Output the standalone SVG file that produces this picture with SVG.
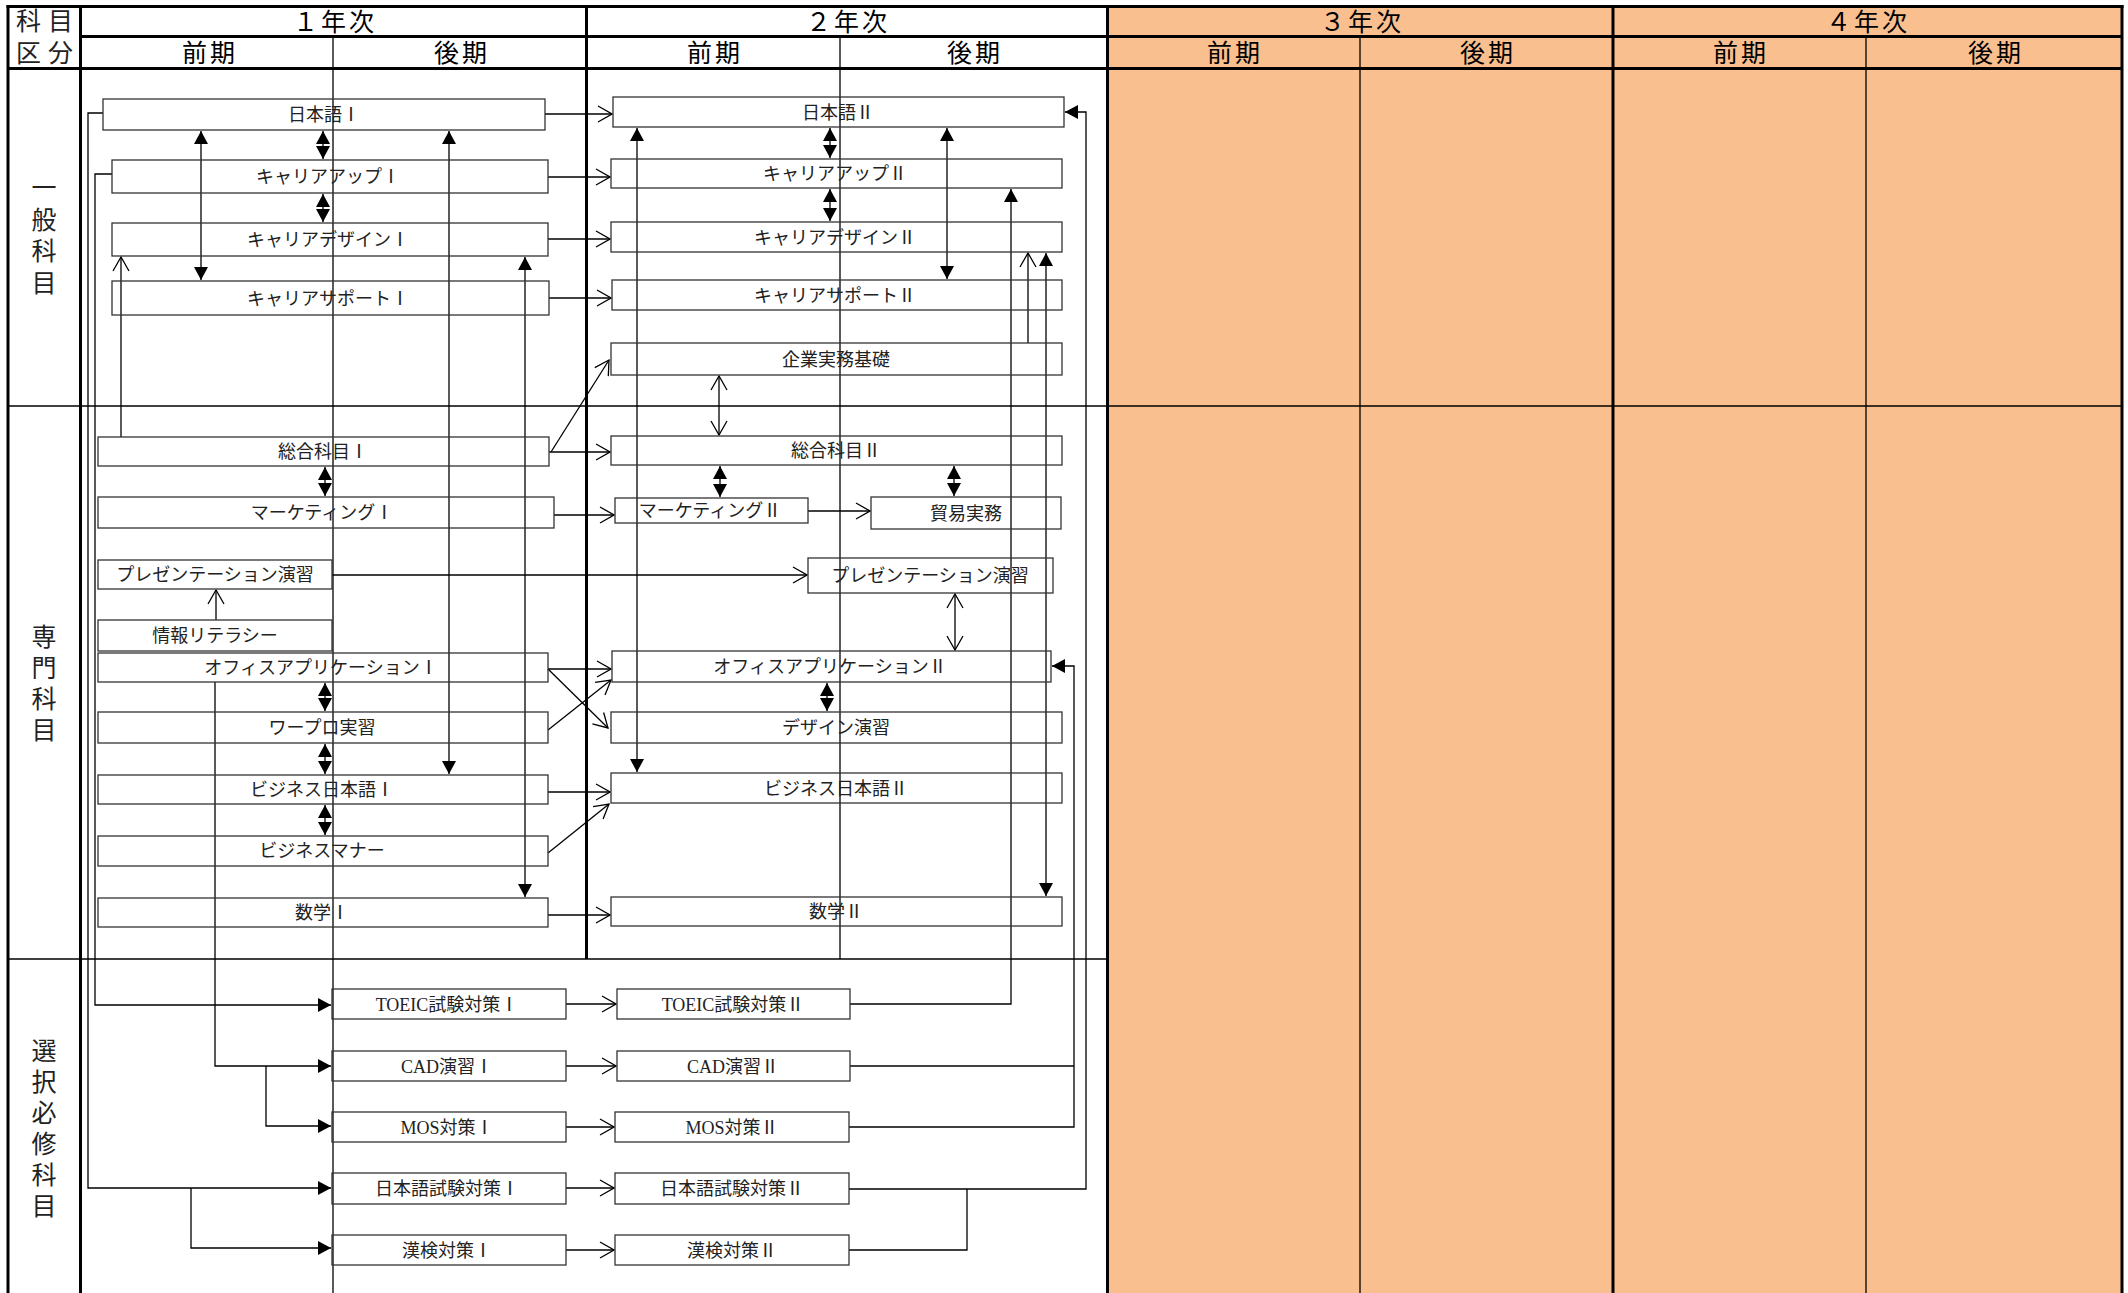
<svg xmlns="http://www.w3.org/2000/svg" width="2128" height="1293" viewBox="0 0 2128 1293">
<style>
.thick{stroke:#000;stroke-width:3;fill:none}
.thin{stroke:#000;stroke-width:1.3;fill:none}
.hdr{font-family:"Liberation Serif","Noto Sans CJK JP",serif;font-size:25px;fill:#000;text-anchor:middle;letter-spacing:3px}
.sec{font-family:"Noto Sans CJK JP",sans-serif;font-size:25px;fill:#222}
.vt{font-family:"Noto Sans CJK JP",sans-serif;font-size:25px;fill:#222;writing-mode:vertical-rl;text-anchor:start}
.box{fill:none;stroke:#333;stroke-width:1.3}
.lbl{font-family:"Liberation Serif","Noto Sans CJK JP",serif;font-size:18px;fill:#222;text-anchor:middle}
.c{fill:none;stroke:#000;stroke-width:1.3}
.f{marker-end:url(#fa)}
.f2{marker-start:url(#fa);marker-end:url(#fa)}
.o{marker-end:url(#oa)}
.o2{marker-start:url(#oa);marker-end:url(#oa)}
</style>
<defs>
<marker id="fa" viewBox="0 0 13 14" refX="13" refY="7" markerWidth="13" markerHeight="14" markerUnits="userSpaceOnUse" orient="auto-start-reverse"><path d="M0,0 L13,7 L0,14 Z" fill="#000"/></marker>
<marker id="oa" viewBox="0 0 16 18" refX="15" refY="9" markerWidth="16" markerHeight="18" markerUnits="userSpaceOnUse" orient="auto-start-reverse"><path d="M1,1 L15,9 L1,17" fill="none" stroke="#000" stroke-width="1.3"/></marker>
</defs>
<rect x="0" y="0" width="2128" height="1293" fill="#fff"/>
<g id="grid">
<rect x="1107" y="6" width="1015" height="1287" fill="#F9BF8F"/>
<line class="thin" x1="333" y1="36" x2="333" y2="1293"/>
<line class="thin" x1="840" y1="36" x2="840" y2="959"/>
<line class="thin" x1="1360" y1="36" x2="1360" y2="1293"/>
<line class="thin" x1="1866" y1="36" x2="1866" y2="1293"/>
<line class="thin" x1="8" y1="406" x2="2122" y2="406"/>
<line class="thin" x1="8" y1="959" x2="1107" y2="959"/>
<line class="thick" x1="6.5" y1="6.5" x2="2123.5" y2="6.5"/>
<line class="thick" x1="8" y1="5" x2="8" y2="1293"/>
<line class="thick" x1="80.5" y1="5" x2="80.5" y2="1293"/>
<line class="thick" x1="80" y1="36.5" x2="2123" y2="36.5"/>
<line class="thick" x1="7" y1="68.5" x2="2123" y2="68.5"/>
<line class="thick" x1="586.5" y1="5" x2="586.5" y2="959"/>
<line class="thick" x1="1107.5" y1="5" x2="1107.5" y2="1293"/>
<line class="thick" x1="1613" y1="5" x2="1613" y2="1293"/>
<line class="thick" x1="2122" y1="5" x2="2122" y2="1293"/>
<text class="sec" x="16" y="30" style="letter-spacing:7px">科目</text>
<text class="sec" x="16" y="62" style="letter-spacing:7px">区分</text>
<text class="hdr" x="335" y="31">１年次</text>
<text class="hdr" x="848" y="31">２年次</text>
<text class="hdr" x="1362" y="31">３年次</text>
<text class="hdr" x="1868" y="31">４年次</text>
<text class="hdr" x="210" y="62">前期</text>
<text class="hdr" x="462" y="62">後期</text>
<text class="hdr" x="715" y="62">前期</text>
<text class="hdr" x="975" y="62">後期</text>
<text class="hdr" x="1235" y="62">前期</text>
<text class="hdr" x="1488" y="62">後期</text>
<text class="hdr" x="1741" y="62">前期</text>
<text class="hdr" x="1996" y="62">後期</text>
<text class="vt" x="44" y="175" style="letter-spacing:6.5px">一般科目</text>
<text class="vt" x="44" y="624" style="letter-spacing:6px">専門科目</text>
<text class="vt" x="44" y="1038" style="letter-spacing:6px">選択必修科目</text>
</g>
<g id="connectors">
<path class="c o" d="M545,114 H612"/>
<path class="c o" d="M548,177 H610"/>
<path class="c o" d="M548,239 H610"/>
<path class="c o" d="M549,298 H611"/>
<path class="c o" d="M551,452 L609,360"/>
<path class="c o" d="M549,452 H610"/>
<path class="c o" d="M554,515 H614"/>
<path class="c o" d="M808,511 H870"/>
<path class="c o" d="M332,575 H807"/>
<path class="c o" d="M216,620 V590"/>
<path class="c o2" d="M955,594 V650"/>
<path class="c o" d="M548,669 H611"/>
<path class="c o" d="M548,669 L608,728"/>
<path class="c o" d="M548,730 L611,680"/>
<path class="c o" d="M548,792 H610"/>
<path class="c o" d="M548,853 L609,804"/>
<path class="c o" d="M548,915 H610"/>
<path class="c o" d="M121,437 V257"/>
<path class="c o" d="M1028,343 V253"/>
<path class="c o2" d="M719,376 V435"/>
<path class="c o" d="M566,1004 H616"/>
<path class="c o" d="M566,1066 H616"/>
<path class="c o" d="M566,1127 H614"/>
<path class="c o" d="M566,1188 H614"/>
<path class="c o" d="M566,1250 H614"/>
<path class="c f2" d="M323,131 V159"/>
<path class="c f2" d="M323,194 V222"/>
<path class="c f2" d="M201,131 V280"/>
<path class="c f2" d="M449,131 V774"/>
<path class="c f2" d="M525,257 V897"/>
<path class="c f2" d="M325,467 V496"/>
<path class="c f2" d="M325,683 V711"/>
<path class="c f2" d="M325,744 V774"/>
<path class="c f2" d="M325,805 V835"/>
<path class="c f2" d="M830,128 V158"/>
<path class="c f2" d="M830,189 V221"/>
<path class="c f2" d="M947,128 V279"/>
<path class="c f2" d="M637,128 V772"/>
<path class="c f2" d="M1046,253 V896"/>
<path class="c f2" d="M720,466 V497"/>
<path class="c f2" d="M954,466 V496"/>
<path class="c f2" d="M827,683 V711"/>
<path class="c f" d="M850,1004 H1011 V189"/>
<path class="c" d="M850,1066 H1074"/>
<path class="c f" d="M849,1127 H1074 V666 H1052"/>
<path class="c f" d="M849,1189 H1086 V112 H1065"/>
<path class="c" d="M849,1250 H967 V1189"/>
<path class="c f" d="M103,113 H88 V1188 H331"/>
<path class="c f" d="M191,1188 V1248 H331"/>
<path class="c f" d="M112,174 H95 V1005 H331"/>
<path class="c f" d="M215,682 V1066 H331"/>
<path class="c f" d="M266,1066 V1126 H331"/>
</g>
<g id="n_jp1"><rect class="box" x="103" y="99" width="442" height="31"/><text class="lbl" x="324" y="121">日本語Ⅰ</text></g>
<g id="n_cu1"><rect class="box" x="112" y="160" width="436" height="33"/><text class="lbl" x="328" y="183">キャリアアップⅠ</text></g>
<g id="n_cd1"><rect class="box" x="112" y="223" width="436" height="33"/><text class="lbl" x="328" y="246">キャリアデザインⅠ</text></g>
<g id="n_cs1"><rect class="box" x="112" y="281" width="437" height="34"/><text class="lbl" x="328" y="305">キャリアサポートⅠ</text></g>
<g id="n_sg1"><rect class="box" x="98" y="437" width="451" height="29"/><text class="lbl" x="323" y="458">総合科目Ⅰ</text></g>
<g id="n_mk1"><rect class="box" x="98" y="497" width="456" height="31"/><text class="lbl" x="322" y="519">マーケティングⅠ</text></g>
<g id="n_pr1"><rect class="box" x="98" y="560" width="234" height="29"/><text class="lbl" x="215" y="581">プレゼンテーション演習</text></g>
<g id="n_it"><rect class="box" x="98" y="620" width="234" height="31"/><text class="lbl" x="215" y="642">情報リテラシー</text></g>
<g id="n_oa1"><rect class="box" x="98" y="653" width="450" height="29"/><text class="lbl" x="321" y="674">オフィスアプリケーションⅠ</text></g>
<g id="n_wp"><rect class="box" x="98" y="712" width="450" height="31"/><text class="lbl" x="322" y="734">ワープロ実習</text></g>
<g id="n_bj1"><rect class="box" x="98" y="775" width="450" height="29"/><text class="lbl" x="322" y="796">ビジネス日本語Ⅰ</text></g>
<g id="n_bm"><rect class="box" x="98" y="836" width="450" height="30"/><text class="lbl" x="322" y="857">ビジネスマナー</text></g>
<g id="n_ma1"><rect class="box" x="98" y="898" width="450" height="29"/><text class="lbl" x="322" y="919">数学Ⅰ</text></g>
<g id="n_jp2"><rect class="box" x="613" y="97" width="451" height="30"/><text class="lbl" x="838" y="119">日本語Ⅱ</text></g>
<g id="n_cu2"><rect class="box" x="611" y="159" width="451" height="29"/><text class="lbl" x="835" y="180">キャリアアップⅡ</text></g>
<g id="n_cd2"><rect class="box" x="611" y="222" width="451" height="30"/><text class="lbl" x="835" y="244">キャリアデザインⅡ</text></g>
<g id="n_cs2"><rect class="box" x="612" y="280" width="450" height="30"/><text class="lbl" x="835" y="302">キャリアサポートⅡ</text></g>
<g id="n_kj"><rect class="box" x="611" y="343" width="451" height="32"/><text class="lbl" x="836" y="366">企業実務基礎</text></g>
<g id="n_sg2"><rect class="box" x="611" y="436" width="451" height="29"/><text class="lbl" x="836" y="457">総合科目Ⅱ</text></g>
<g id="n_mk2"><rect class="box" x="615" y="498" width="193" height="25"/><text class="lbl" x="710" y="517">マーケティングⅡ</text></g>
<g id="n_bt"><rect class="box" x="871" y="497" width="190" height="32"/><text class="lbl" x="966" y="520">貿易実務</text></g>
<g id="n_pr2"><rect class="box" x="808" y="558" width="245" height="35"/><text class="lbl" x="930" y="582">プレゼンテーション演習</text></g>
<g id="n_oa2"><rect class="box" x="612" y="651" width="439" height="31"/><text class="lbl" x="830" y="673">オフィスアプリケーションⅡ</text></g>
<g id="n_de"><rect class="box" x="611" y="712" width="451" height="31"/><text class="lbl" x="836" y="734">デザイン演習</text></g>
<g id="n_bj2"><rect class="box" x="611" y="773" width="451" height="30"/><text class="lbl" x="836" y="795">ビジネス日本語Ⅱ</text></g>
<g id="n_ma2"><rect class="box" x="611" y="897" width="451" height="29"/><text class="lbl" x="836" y="918">数学Ⅱ</text></g>
<g id="n_to1"><rect class="box" x="332" y="989" width="234" height="30"/><text class="lbl" x="447" y="1011">TOEIC試験対策Ⅰ</text></g>
<g id="n_cad1"><rect class="box" x="332" y="1051" width="234" height="30"/><text class="lbl" x="447" y="1073">CAD演習Ⅰ</text></g>
<g id="n_mos1"><rect class="box" x="332" y="1112" width="234" height="30"/><text class="lbl" x="447" y="1134">MOS対策Ⅰ</text></g>
<g id="n_jt1"><rect class="box" x="332" y="1173" width="234" height="31"/><text class="lbl" x="447" y="1195">日本語試験対策Ⅰ</text></g>
<g id="n_kk1"><rect class="box" x="332" y="1235" width="234" height="30"/><text class="lbl" x="447" y="1257">漢検対策Ⅰ</text></g>
<g id="n_to2"><rect class="box" x="617" y="989" width="233" height="30"/><text class="lbl" x="733" y="1011">TOEIC試験対策Ⅱ</text></g>
<g id="n_cad2"><rect class="box" x="617" y="1051" width="233" height="30"/><text class="lbl" x="733" y="1073">CAD演習Ⅱ</text></g>
<g id="n_mos2"><rect class="box" x="615" y="1112" width="234" height="30"/><text class="lbl" x="732" y="1134">MOS対策Ⅱ</text></g>
<g id="n_jt2"><rect class="box" x="615" y="1173" width="234" height="31"/><text class="lbl" x="732" y="1195">日本語試験対策Ⅱ</text></g>
<g id="n_kk2"><rect class="box" x="615" y="1235" width="234" height="30"/><text class="lbl" x="732" y="1257">漢検対策Ⅱ</text></g>
</svg>
